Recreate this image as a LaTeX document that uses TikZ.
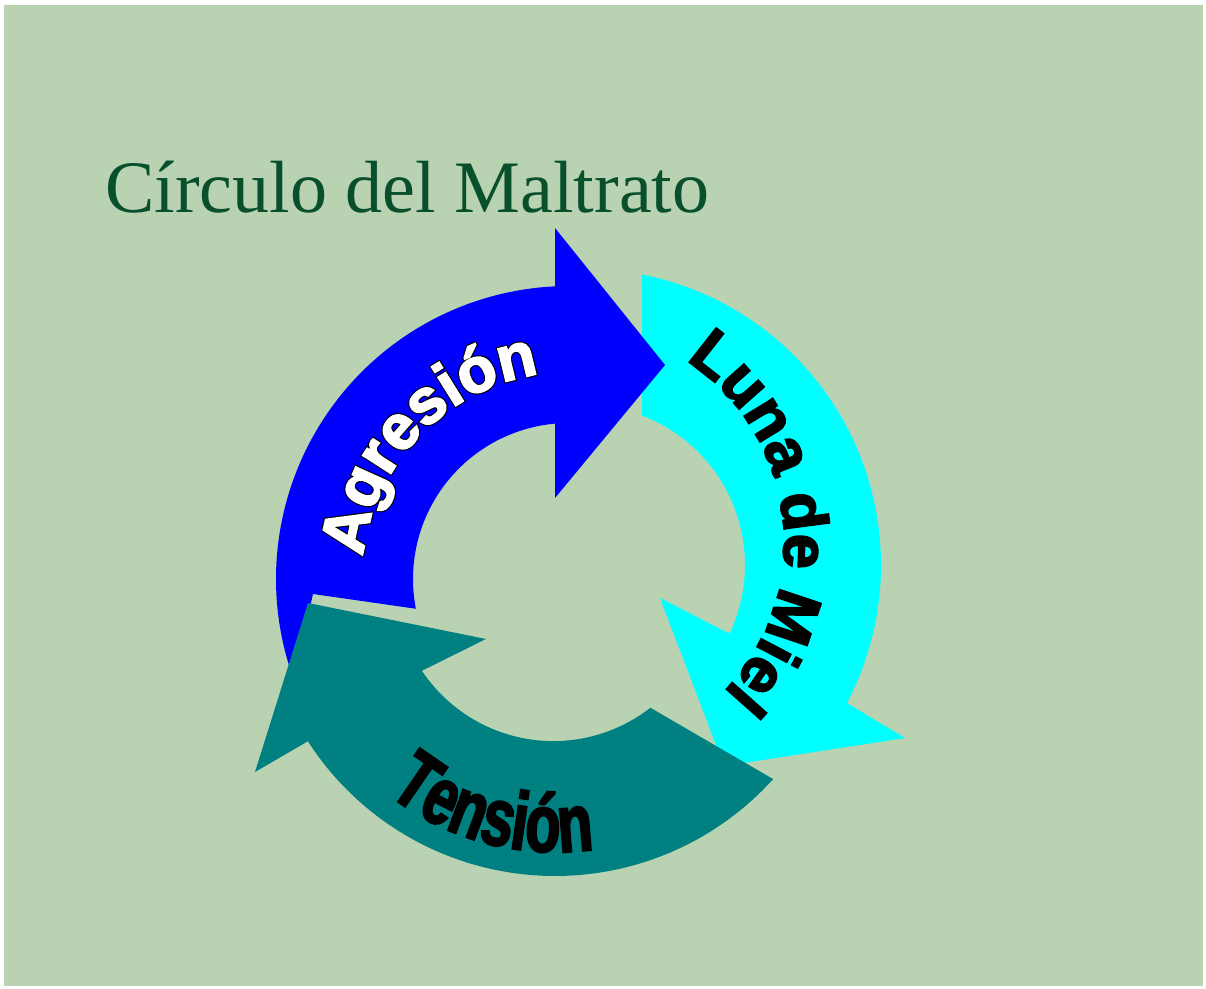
\documentclass[tikz,border=0pt]{standalone}
\usepackage{fontspec}
\setmainfont{Liberation Serif}
\newfontfamily\heavyfont{Liberation Sans}[BoldFeatures={FakeBold=3}]
\newfontfamily\rimfont{Liberation Sans}[BoldFeatures={FakeBold=6.5}]
\newfontfamily\tallfont{Liberation Sans}[BoldFeatures={FakeBold=2.5,FakeStretch=0.7}]
\usetikzlibrary{calc,decorations.text}
\definecolor{paper}{RGB}{184,210,178}
\definecolor{titlegreen}{RGB}{8,80,44}
\definecolor{agrcolor}{RGB}{0,0,255}
\definecolor{lunacolor}{RGB}{0,255,255}
\definecolor{tencolor}{RGB}{0,128,128}

\begin{document}
\begin{tikzpicture}[x=1pt, y=1pt,
    wordart/.style={decorate, decoration={text along path, text align=center, text={#1}}}]
    \useasboundingbox (0,0) rectangle (1206,988);
    \fill[paper] (4,2) rectangle (1203,983);
    % centres of the three arrows
    \coordinate (agr)      at (569, 409);
    \coordinate (lun)      at (585, 423);
    \coordinate (ten)      at (555, 406);
    \coordinate (lunatext) at (567, 446);
    % title
    \node[anchor=base west, inner sep=0pt, text=titlegreen,
          font=\fontsize{74}{74}\selectfont] (title) at (105,775) {Círculo del Maltrato};
    % luna de miel
    \fill[lunacolor] ($(lun)+(78.9:296)$) arc[start angle=78.9, end angle=-27.8, radius=296]
        -- (905,250) -- (724,222) -- (660,390)
        -- ($(lun)+(-25.4:160)$) arc[start angle=-25.4, end angle=69.1, radius=160] -- cycle;
    % agresion
    \fill[agrcolor] (313,394) -- ($(agr)+(200:293)$) arc[start angle=200, end angle=92.7, radius=293]
        -- (555,760) -- (665,623) -- (555,490)
        -- ($(agr)+(95.1:156)$) arc[start angle=95.1, end angle=191, radius=156] -- cycle;
    % tension
    \fill[tencolor] ($(ten)+(-52.8:158)$) -- ($(ten)+(-42.1:294)$) arc[start angle=-42.1, end angle=-147.2, radius=294]
        -- (255,216) -- (308,385) -- (486,349)
        -- ($(ten)+(-146.3:160)$) arc[start angle=-146.3, end angle=-52.8, radius=158] -- cycle;
    % words on the arrows
    \path[wordart={|\fontsize{63}{63}\selectfont\rimfont\bfseries|Agresión}]
        ($(agr)+(186:207)$) arc[start angle=186, end angle=86, radius=207];
    \path[wordart={|\fontsize{63}{63}\selectfont\heavyfont\bfseries\color{white}|Agresión}]
        ($(agr)+(186:207)$) arc[start angle=186, end angle=86, radius=207];
    \path[wordart={|\fontsize{63}{63}\selectfont\heavyfont\bfseries|Luna de Miel}]
        ($(lunatext)+(65:217)$) arc[start angle=65, end angle=-52, radius=217];
    \path[wordart={|\fontsize{82}{82}\selectfont\tallfont\bfseries|Tensión}]
        ($(ten)+(215:270)$) arc[start angle=215, end angle=295, radius=270];
\end{tikzpicture}
\end{document}
